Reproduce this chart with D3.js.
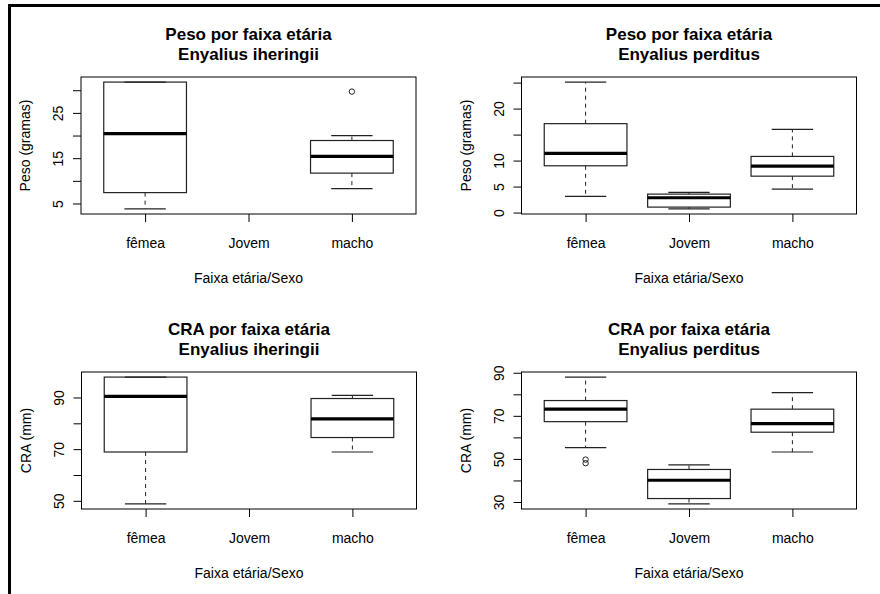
<!DOCTYPE html>
<html>
<head>
<meta charset="utf-8">
<script src="https://cdn.jsdelivr.net/npm/d3@7"></script>
<style>
  html, body { margin: 0; padding: 0; background: #fff; }
  svg { display: block; }
  text { font-family: "Liberation Sans", Arial, sans-serif; fill: #000; }
</style>
</head>
<body>
<svg id="chart" width="880" height="594"></svg>
<script>
// ---------------- DATA ----------------
const categories = ["fêmea", "Jovem", "macho"];

// five-number stats per group: [lower whisker, Q1, median, Q3, upper whisker]; null = no data
const pesoIheringiiStats = [[3.8, 7.4, 20.4, 31.8, 31.8], null, [8.3, 11.7, 15.4, 18.9, 20.0]];
const pesoIheringiiOut   = [[], [], [29.7]];
const pesoPerditusStats  = [[3.1, 9.0, 11.4, 17.1, 25.1], [0.7, 1.05, 2.85, 3.55, 3.9], [4.5, 7.0, 8.95, 10.8, 16.0]];
const pesoPerditusOut    = [[], [], []];
const craIheringiiStats  = [[48.8, 68.9, 90.4, 97.9, 97.9], null, [68.9, 74.5, 81.7, 89.6, 90.8]];
const craIheringiiOut    = [[], [], []];
const craPerditusStats   = [[55.2, 67.3, 73.1, 77.1, 88.0], [29.1, 31.6, 40.1, 45.1, 47.2], [53.2, 62.4, 66.4, 73.1, 80.8]];
const craPerditusOut     = [[48.0, 49.7], [], []];

// y ticks and the ones that carry a label
const pesoIheringiiTicks  = [5, 10, 15, 20, 25, 30];
const pesoIheringiiLabels = [5, 15, 25];
const pesoPerditusTicks   = [0, 5, 10, 15, 20, 25];
const pesoPerditusLabels  = [0, 5, 10, 20];
const craIheringiiTicks   = [50, 60, 70, 80, 90];
const craIheringiiLabels  = [50, 70, 90];
const craPerditusTicks    = [30, 40, 50, 60, 70, 80, 90];
const craPerditusLabels   = [30, 50, 70, 90];

const titleLine1 = ["Peso por faixa etária", "Peso por faixa etária", "CRA por faixa etária", "CRA por faixa etária"];
const titleLine2 = ["Enyalius iheringii", "Enyalius perditus", "Enyalius iheringii", "Enyalius perditus"];
const yTitles    = ["Peso (gramas)", "Peso (gramas)", "CRA (mm)", "CRA (mm)"];
const xTitle     = "Faixa etária/Sexo";

// ---------------- LAYOUT ----------------
const svg = d3.select("#chart");
const W = 335, H = 137;
const panelOrigins = [[81, 77], [521.5, 77], [81.5, 372], [521.5, 372]];

const panels = [
  { stats: pesoIheringiiStats, out: pesoIheringiiOut, ticks: pesoIheringiiTicks, labels: pesoIheringiiLabels },
  { stats: pesoPerditusStats,  out: pesoPerditusOut,  ticks: pesoPerditusTicks,  labels: pesoPerditusLabels },
  { stats: craIheringiiStats,  out: craIheringiiOut,  ticks: craIheringiiTicks,  labels: craIheringiiLabels },
  { stats: craPerditusStats,   out: craPerditusOut,   ticks: craPerditusTicks,   labels: craPerditusLabels }
];

// outer border (top and left)
svg.append("rect").attr("x", 8).attr("y", 4).attr("width", 872).attr("height", 3).attr("fill", "#000");
svg.append("rect").attr("x", 8).attr("y", 4).attr("width", 3).attr("height", 590).attr("fill", "#000");

const LINE = "#222";

panels.forEach((p, k) => {
  const [x0, y0] = panelOrigins[k];
  const g = svg.append("g").attr("transform", `translate(${x0},${y0})`);

  // data range with 4% extension (R style)
  const vals = [];
  p.stats.forEach((s, i) => { if (s) vals.push(...s); vals.push(...p.out[i]); });
  const lo = d3.min(vals), hi = d3.max(vals), r = hi - lo;
  const y = d3.scaleLinear().domain([lo - 0.04 * r, hi + 0.04 * r]).range([H, 0]);
  const x = d3.scaleLinear().domain([0.38, 3.62]).range([0, W]);

  // boxes
  p.stats.forEach((s, i) => {
    if (!s) return;
    const c = i + 1;
    const [wl, q1, med, q3, wu] = s;
    const bx = g.append("g").attr("fill", "none").attr("stroke", LINE);
    // whiskers (dashed)
    bx.append("line").attr("x1", x(c)).attr("x2", x(c)).attr("y1", y(q3)).attr("y2", y(wu))
      .attr("stroke-dasharray", "4,4").attr("stroke-width", 1);
    bx.append("line").attr("x1", x(c)).attr("x2", x(c)).attr("y1", y(q1)).attr("y2", y(wl))
      .attr("stroke-dasharray", "4,4").attr("stroke-width", 1);
    // staples
    [wl, wu].forEach(v => {
      bx.append("line").attr("x1", x(c - 0.2)).attr("x2", x(c + 0.2)).attr("y1", y(v)).attr("y2", y(v))
        .attr("stroke-width", 1.2);
    });
    // box
    bx.append("rect").attr("x", x(c - 0.4)).attr("width", x(c + 0.4) - x(c - 0.4))
      .attr("y", y(q3)).attr("height", y(q1) - y(q3)).attr("stroke-width", 1.2);
    // median
    bx.append("line").attr("x1", x(c - 0.4)).attr("x2", x(c + 0.4)).attr("y1", y(med)).attr("y2", y(med))
      .attr("stroke", "#000").attr("stroke-width", 3.2);
    // outliers
    p.out[i].forEach(v => {
      bx.append("circle").attr("cx", x(c)).attr("cy", y(v)).attr("r", 2.7).attr("stroke-width", 1);
    });
  });

  // frame
  g.append("rect").attr("x", 0).attr("y", 0).attr("width", W).attr("height", H)
    .attr("fill", "none").attr("stroke", "#000").attr("stroke-width", 1);

  // y axis
  const ya = g.append("g").call(
    d3.axisLeft(y).tickValues(p.ticks).tickSize(8)
      .tickFormat(v => p.labels.includes(v) ? String(v) : "")
  );
  ya.select(".domain").remove();
  ya.selectAll("line").attr("stroke", "#000");
  ya.selectAll("text")
    .attr("transform", "rotate(-90)")
    .attr("x", 0).attr("y", -18).attr("dy", 0)
    .attr("text-anchor", "middle")
    .style("font-size", "14px").style("font-family", "Liberation Sans, Arial, sans-serif");

  // x axis
  const xa = g.append("g").attr("transform", `translate(0,${H})`).call(
    d3.axisBottom(x).tickValues([1, 2, 3]).tickSize(8).tickFormat(v => categories[v - 1])
  );
  xa.select(".domain").remove();
  xa.selectAll("line").attr("stroke", "#000");
  xa.selectAll("text").attr("y", 34).attr("dy", 0)
    .style("font-size", "14px").style("font-family", "Liberation Sans, Arial, sans-serif");

  // axis titles
  g.append("text").attr("x", W / 2).attr("y", H + 69).attr("text-anchor", "middle")
    .style("font-size", "14px").text(xTitle);
  g.append("text").attr("transform", `translate(-51,${H / 2}) rotate(-90)`).attr("text-anchor", "middle")
    .style("font-size", "14px").text(yTitles[k]);

  // titles
  g.append("text").attr("x", W / 2).attr("y", -37).attr("text-anchor", "middle")
    .style("font-size", "17px").style("font-weight", "bold").text(titleLine1[k]);
  g.append("text").attr("x", W / 2).attr("y", -17).attr("text-anchor", "middle")
    .style("font-size", "17px").style("font-weight", "bold").text(titleLine2[k]);
});
</script>
</body>
</html>
